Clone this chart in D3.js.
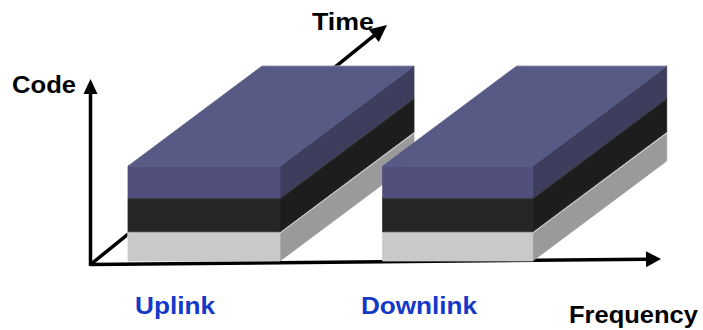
<!DOCTYPE html>
<html>
<head>
<meta charset="utf-8">
<script src="https://cdn.jsdelivr.net/npm/d3@7"></script>
<style>
html,body{margin:0;padding:0;background:#fff;}
svg{display:block;}
</style>
</head>
<body>
<svg id="chart" width="703" height="330"></svg>
<script>
// ---- data ----
const bands = ["Uplink", "Downlink"];
const bandStart = [1.0, 7.7];      // frequency units
const bandEnd = [5.0, 11.65];
const layers = ["bottom", "middle", "top"];
const layerLow = [0, 0.94, 2.04];  // code units
const layerHigh = [0.94, 2.04, 3.06];
const timeSpan = [0, 1];           // time units (depth)
const axisLabels = ["Code", "Time", "Frequency"];

// ---- styles ----
const layerFill = {
  bottom: {front: "#c9c9c9", side: "#9a9a9a", edge: "#dcdcdc"},
  middle: {front: "#262626", side: "#1d1d1d", edge: "#3a3a3a"},
  top:    {front: "#514f7b", side: "#3e3d5d", top: "#585a86", edge: "#585a86"}
};
const bandColor = "#1439c9";

const svg = d3.select("#chart");
const defs = svg.append("defs");

// ---- scales ----
const x = d3.scaleLinear().domain([0, 15]).range([90, 660]);
const y = d3.scaleLinear().domain([0, 6]).range([261, 75]);
const tx = d3.scaleLinear().domain([0, 1]).range([0, 134]);
const ty = d3.scaleLinear().domain([0, 1]).range([0, -100]);
const P = (f, c, t) => [x(f) + tx(t), y(c) + ty(t)];
const poly = pts => pts.map(p => p.join(",")).join(" ");

// mask hiding the time axis behind the blocks
const mask = defs.append("mask").attr("id", "behind").attr("maskUnits", "userSpaceOnUse")
  .attr("x", 0).attr("y", 0).attr("width", 703).attr("height", 330);
mask.append("rect").attr("width", 703).attr("height", 330).attr("fill", "#fff");
bands.forEach((b, i) => {
  const f0 = bandStart[i], f1 = bandEnd[i];
  const lo = layerLow[0], hi = layerHigh[layerHigh.length - 1];
  mask.append("polygon")
    .attr("points", poly([P(f0, lo, 0), P(f1, lo, 0), P(f1, lo, timeSpan[1]), P(f1, hi, timeSpan[1]), P(f0, hi, timeSpan[1]), P(f0, hi, 0)]))
    .attr("fill", "#000").attr("stroke", "#000").attr("stroke-width", 1);
});

// ---- axes ----
const origin = [90.5, 264.5];
const axisW = 3.5;
const timeTip = [387, 25];
const codeTip = [90.5, 79];
const freqTip = [661, 259];

function arrow(from, tip, len, half, masked) {
  const dx = tip[0] - from[0], dy = tip[1] - from[1];
  const L = Math.hypot(dx, dy), ux = dx / L, uy = dy / L;
  const bx = tip[0] - ux * len, by = tip[1] - uy * len;
  const g = svg.append("g");
  if (masked) g.attr("mask", "url(#behind)");
  g.append("line")
    .attr("x1", from[0]).attr("y1", from[1])
    .attr("x2", bx + ux * 1).attr("y2", by + uy * 1)
    .attr("stroke", "#000").attr("stroke-width", axisW);
  g.append("polygon")
    .attr("points", [[tip[0], tip[1]], [bx - uy * half, by + ux * half], [bx + uy * half, by - ux * half]].map(p => p.join(",")).join(" "))
    .attr("fill", "#000");
}

arrow(origin, timeTip, 17, 8, true);
arrow(origin, freqTip, 15, 8, false);
arrow([origin[0], origin[1] + 1.5], codeTip, 15, 7, false);

// ---- blocks ----
function face(g, pts, color) {
  g.append("polygon").attr("points", poly(pts))
    .attr("fill", color).attr("stroke", color).attr("stroke-width", 0.8);
}
bands.forEach((b, i) => {
  const f0 = bandStart[i], f1 = bandEnd[i];
  const g = svg.append("g").attr("class", "band-" + b);
  layers.forEach((l, j) => {
    const lo = layerLow[j], hi = layerHigh[j];
    const c = layerFill[l];
    face(g, [P(f1, lo, timeSpan[0]), P(f1, hi, timeSpan[0]), P(f1, hi, timeSpan[1]), P(f1, lo, timeSpan[1])], c.side);
    face(g, [P(f0, lo, 0), P(f1, lo, 0), P(f1, hi, 0), P(f0, hi, 0)], c.front);
    if (c.top) {
      face(g, [P(f0, hi, timeSpan[0]), P(f1, hi, timeSpan[0]), P(f1, hi, timeSpan[1]), P(f0, hi, timeSpan[1])], c.top);
    } else {
      g.append("polyline")
        .attr("points", poly([P(f0, hi, 0), P(f1, hi, 0), P(f1, hi, timeSpan[1])]))
        .attr("fill", "none").attr("stroke", c.edge).attr("stroke-width", 1.5)
        .attr("transform", "translate(0,0.75)");
    }
  });
});

// ---- labels ----
const font = "Liberation Sans, Arial, Helvetica, sans-serif";
const labelPos = {
  Code: {x: 12, y: 93, w: 64},
  Time: {x: 312, y: 30, w: 62},
  Frequency: {x: 569, y: 323, w: 129}
};
axisLabels.forEach(t => {
  const p = labelPos[t];
  svg.append("text").text(t)
    .attr("x", p.x).attr("y", p.y)
    .attr("textLength", p.w).attr("lengthAdjust", "spacingAndGlyphs")
    .attr("font-family", font).attr("font-weight", "bold").attr("font-size", 24)
    .attr("fill", "#000");
});
const bandLabelX = [135, 361];
const bandLabelW = [80, 116];
bands.forEach((b, i) => {
  svg.append("text").text(b)
    .attr("x", bandLabelX[i]).attr("y", 314)
    .attr("textLength", bandLabelW[i]).attr("lengthAdjust", "spacingAndGlyphs")
    .attr("font-family", font).attr("font-weight", "bold").attr("font-size", 24)
    .attr("fill", bandColor);
});
</script>
</body>
</html>
